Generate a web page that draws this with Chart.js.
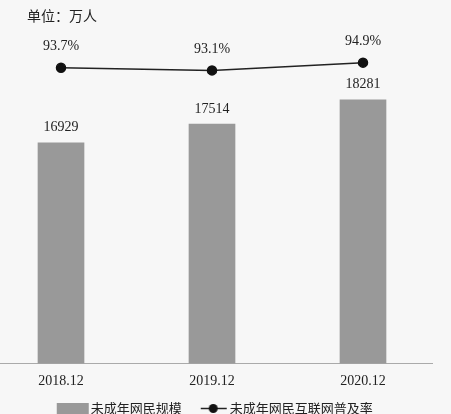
<!DOCTYPE html>
<html>
<head>
<meta charset="utf-8">
<script src="https://cdn.jsdelivr.net/npm/chart.js@4"></script>
<style>
  html, body { margin: 0; padding: 0; background: #f7f7f7; overflow: hidden; }
  #wrap { width: 451px; height: 425px; }
</style>
</head>
<body>
<div id="wrap"><canvas id="myChart"></canvas></div>
<script>
//////////////// DATA /////////////////////////////////
var categories = ['2018.12', '2019.12', '2020.12'];
var userCount = [16929, 17514, 18281];       // 未成年网民规模 (万人)
var penetration = [93.7, 93.1, 94.9];        // 未成年网民互联网普及率 (%)
var unitLabel = '单位：万人';
var barName = '未成年网民规模';
var lineName = '未成年网民互联网普及率';

var serif = '"Liberation Serif", "DejaVu Serif", serif';
var cjk = '"Noto Sans CJK SC", sans-serif';

//////////////// LEGEND ICONS /////////////////////////////////
function barIcon() {
  var c = document.createElement('canvas');
  c.width = 50; c.height = 11;
  var g = c.getContext('2d');
  g.fillStyle = '#999999';
  g.fillRect(17, 0, 32, 11);
  return c;
}
function lineIcon() {
  var c = document.createElement('canvas');
  c.width = 48; c.height = 11;
  var g = c.getContext('2d');
  g.strokeStyle = '#222';
  g.lineWidth = 1.5;
  g.beginPath(); g.moveTo(21, 5.5); g.lineTo(47, 5.5); g.stroke();
  g.fillStyle = '#111';
  g.beginPath(); g.arc(33.5, 5.5, 4.5, 0, Math.PI * 2); g.fill();
  return c;
}

// unit text top left + value labels
var labelsPlugin = {
  id: 'labels',
  afterLayout: function(chart) {
    // legend sits a bit left of centre in the original
    chart.legend.left -= 14;
  },
  afterDatasetsDraw: function(chart) {
    var ctx = chart.ctx;
    ctx.save();
    ctx.fillStyle = '#222';
    ctx.textAlign = 'left';
    ctx.textBaseline = 'middle';
    ctx.font = '14px ' + cjk;
    ctx.fillText(unitLabel, 27, 16);

    ctx.textAlign = 'center';
    ctx.font = '14px ' + serif;
    chart.getDatasetMeta(0).data.forEach(function(el, i) {
      ctx.fillText(String(userCount[i]), el.x, el.y - 15);
    });
    chart.getDatasetMeta(1).data.forEach(function(el, i) {
      ctx.fillText(penetration[i].toFixed(1) + '%', el.x, el.y - 21);
    });
    ctx.restore();
  }
};

//////////////// CHART /////////////////////////////////
var ctx = document.getElementById('myChart').getContext('2d');
var chart = new Chart(ctx, {
  type: 'bar',
  data: {
    datasets: [{
      type: 'bar',
      label: barName,
      data: userCount.map(function(v, i) { return {x: i, y: v}; }),
      backgroundColor: '#999999',
      barThickness: 46,
      yAxisID: 'y',
      order: 2
    }, {
      type: 'line',
      label: lineName,
      data: penetration.map(function(v, i) { return {x: i, y: v}; }),
      borderColor: '#222',
      borderWidth: 1.5,
      pointRadius: 4.5,
      pointBackgroundColor: '#111',
      pointBorderColor: '#111',
      yAxisID: 'y2',
      order: 1
    }]
  },
  options: {
    responsive: true,
    maintainAspectRatio: false,
    animation: false,
    layout: { autoPadding: false, padding: { top: 45, left: 0, right: 19, bottom: 0 } },
    scales: {
      x: {
        type: 'linear',
        offset: false,
        min: -0.404,
        max: 2.457,
        grid: { display: false, drawTicks: false },
        border: { display: true, color: '#aaaaaa', width: 1 },
        afterBuildTicks: function(axis) {
          axis.ticks = categories.map(function(c, i) { return {value: i}; });
        },
        ticks: {
          padding: 9.6,
          maxRotation: 0,
          color: '#222',
          font: { family: serif, size: 14 },
          callback: function(v) { return categories[v]; }
        }
      },
      y: { display: false, min: 10000, max: 20000 },
      y2: { display: false, min: 25, max: 99 }
    },
    plugins: {
      tooltip: { enabled: false },
      legend: {
        position: 'bottom',
        labels: {
          usePointStyle: true,
          pointStyleWidth: 39,
          boxHeight: 11,
          padding: 2.5,
          color: '#222',
          font: { family: cjk, size: 13 },
          generateLabels: function(chart) {
            return [
              { text: barName, pointStyle: barIcon(), fillStyle: '#999', strokeStyle: '#999', lineWidth: 0, datasetIndex: 0, fontColor: '#222' },
              { text: lineName, pointStyle: lineIcon(), fillStyle: '#111', strokeStyle: '#222', lineWidth: 0, datasetIndex: 1, fontColor: '#222' }
            ];
          }
        }
      }
    }
  },
  plugins: [labelsPlugin]
});
</script>
</body>
</html>
